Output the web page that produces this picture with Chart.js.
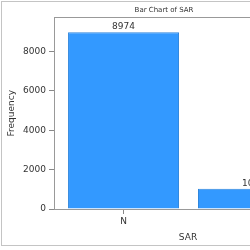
<!DOCTYPE html>
<html>
<head>
<meta charset="utf-8">
<script src="https://cdn.jsdelivr.net/npm/chart.js@4/dist/chart.umd.min.js"></script>
<style>
  html, body { margin: 0; padding: 0; background: #fff; width: 250px; height: 250px; overflow: hidden; }
  #frame { position: absolute; left: 1px; top: 1px; width: 400px; height: 243px; border: 1px solid #c4c4c4; }
  #wrap { position: absolute; left: 0; top: 0; width: 378px; height: 250px; }
</style>
</head>
<body>
<div id="frame"></div>
<div id="wrap"><canvas id="chart" width="378" height="250"></canvas></div>
<script>
var categories = ['N', 'Y'];
var frequencies = [8974, 1026];
var yTicks = [0, 2000, 4000, 6000, 8000];

var textColor = '#333';
var axisColor = '#888';

// frame round the plot area
var plotBox = {
    id: 'plotBox',
    afterDraw: function (chart) {
        var a = chart.chartArea, ctx = chart.ctx;
        ctx.save();
        ctx.strokeStyle = '#999';
        ctx.lineWidth = 1;
        ctx.strokeRect(Math.round(a.left) + 0.5, Math.round(a.top) + 0.5,
            Math.round(a.right - a.left), Math.round(a.bottom - a.top));
        ctx.restore();
    }
};

// value labels above the bars
var barLabels = {
    id: 'barLabels',
    afterDatasetsDraw: function (chart) {
        var ctx = chart.ctx;
        var meta = chart.getDatasetMeta(0);
        ctx.save();
        ctx.font = '9px "DejaVu Sans", sans-serif';
        ctx.fillStyle = textColor;
        ctx.textAlign = 'center';
        ctx.textBaseline = 'bottom';
        meta.data.forEach(function (bar, i) {
            ctx.fillText(String(frequencies[i]), bar.x, bar.y - 1);
        });
        ctx.restore();
    }
};

new Chart(document.getElementById('chart'), {
    type: 'bar',
    data: {
        datasets: [{
            data: frequencies.map(function (v, i) { return { x: i, y: v }; }),
            backgroundColor: '#3399ff',
            borderColor: '#2f86dc',
            borderWidth: 1,
            barPercentage: 0.854,
            categoryPercentage: 1
        }]
    },
    options: {
        responsive: false,
        animation: false,
        layout: { padding: { left: 6, right: 56, top: 0, bottom: 0 } },
        plugins: {
            legend: { display: false },
            tooltip: { enabled: false },
            title: {
                display: true,
                text: 'Bar Chart of SAR',
                color: textColor,
                font: { family: 'DejaVu Sans', size: 7, weight: 'normal' },
                padding: { top: 6, bottom: 3 }
            }
        },
        scales: {
            x: {
                type: 'linear',
                min: -0.535,
                max: 1.527,
                offset: false,
                grid: { offset: false, drawOnChartArea: false, drawTicks: true, tickLength: 5, color: axisColor },
                border: { color: axisColor },
                ticks: {
                    color: textColor, font: { family: 'DejaVu Sans', size: 9 }, padding: 2,
                    callback: function (v) { return categories[v]; }
                },
                afterBuildTicks: function (s) {
                    s.ticks = categories.map(function (c, i) { return { value: i }; });
                },
                title: {
                    display: true, text: 'SAR', color: textColor,
                    font: { family: 'DejaVu Sans', size: 9 }, padding: { top: 5, bottom: 7 }
                },
                afterFit: function (s) { s.height = 41; }
            },
            y: {
                min: 0,
                max: 9722,
                grid: { drawOnChartArea: false, drawTicks: true, tickLength: 5, color: axisColor },
                border: { color: axisColor },
                ticks: {
                    color: textColor, font: { family: 'DejaVu Sans', size: 9 }, padding: 3,
                    callback: function (v) { return String(v); }
                },
                afterBuildTicks: function (s) {
                    s.ticks = yTicks.map(function (v) { return { value: v }; });
                },
                title: {
                    display: true, text: 'Frequency', color: textColor,
                    font: { family: 'DejaVu Sans', size: 9 }, padding: { top: 0, bottom: 0 }
                },
                afterFit: function (s) { s.width = 48; }
            }
        }
    },
    plugins: [plotBox, barLabels]
});
</script>
</body>
</html>
